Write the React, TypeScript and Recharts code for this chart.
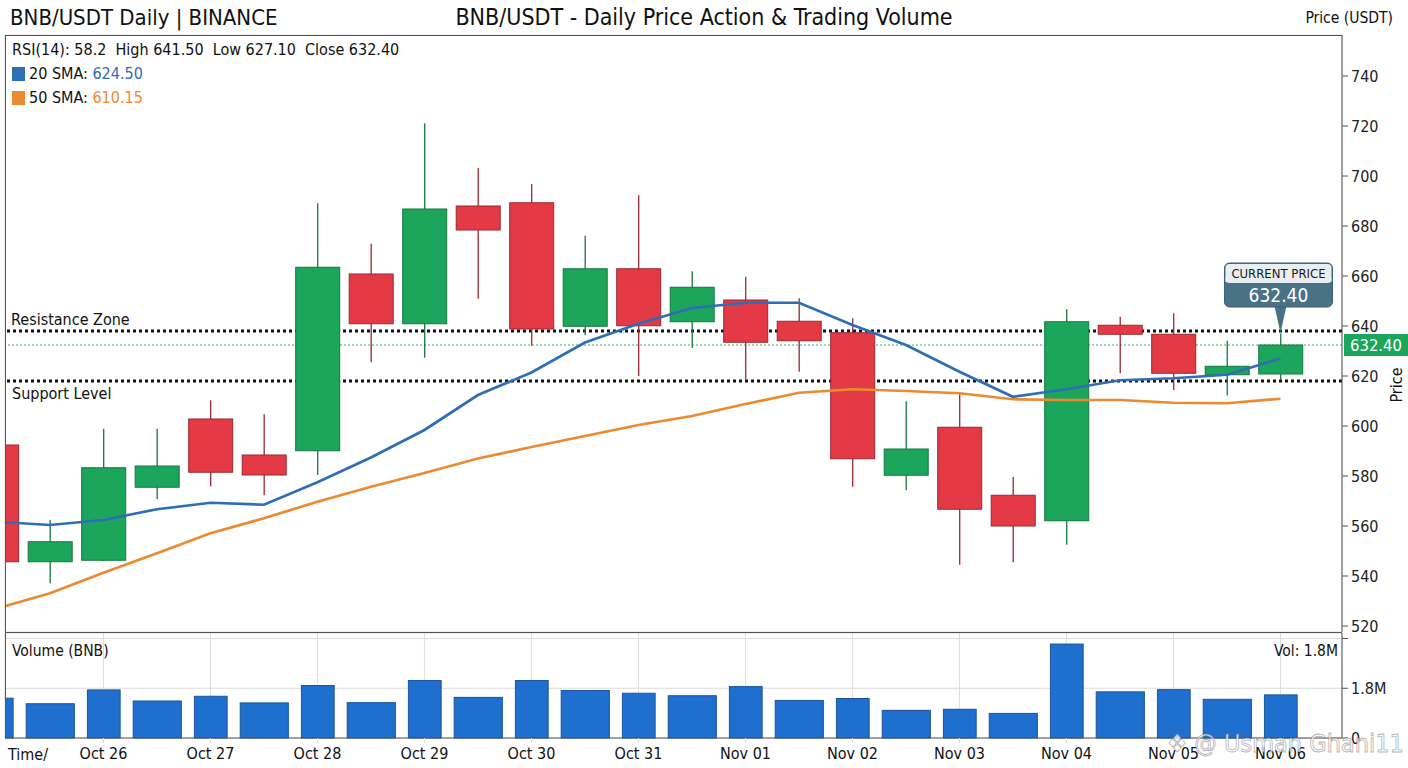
import {
  ComposedChart,
  Bar,
  Line,
  XAxis,
  YAxis,
  CartesianGrid,
  ReferenceLine,
  ReferenceDot,
} from 'recharts';

const FONT = '"DejaVu Sans Condensed", "DejaVu Sans", sans-serif';

// one candle per half day, index 0..24
const OPEN = [
  592.4, 545.7, 546.3, 575.5, 602.8, 588.4, 590.1, 660.8, 640.9, 688.0, 689.3, 639.9, 662.9,
  641.7, 650.4, 641.9, 637.3, 580.3, 599.5, 572.3, 562.1, 640.3, 636.7, 620.5, 620.8,
];
const HIGH = [
  596.0, 562.4, 598.9, 598.9, 610.3, 604.7, 689.1, 672.9, 721.1, 703.2, 696.8, 676.1, 692.3,
  661.9, 659.7, 651.1, 643.1, 609.9, 613.1, 579.6, 646.7, 643.7, 645.1, 634.1, 637.0,
];
const LOW = [
  541.0, 537.1, 546.0, 570.7, 575.9, 572.3, 580.4, 625.5, 627.3, 650.9, 632.1, 636.3, 620.0,
  631.2, 618.7, 621.7, 575.7, 574.3, 544.5, 545.5, 552.5, 621.1, 614.4, 612.2, 618.4,
];
const CLOSE = [
  545.7, 553.7, 583.3, 584.0, 581.5, 580.4, 663.5, 640.9, 686.8, 678.4, 638.8, 662.9, 640.1,
  655.5, 633.5, 634.1, 586.9, 590.8, 566.7, 560.0, 641.7, 636.7, 621.1, 623.9, 632.4,
];
const SMA20 = [
  561.7, 560.4, 562.4, 566.7, 569.3, 568.5, 577.5, 587.4, 598.4, 612.4, 621.4, 633.4, 640.9,
  647.2, 649.3, 649.3, 640.4, 632.4, 621.7, 611.7, 614.7, 618.3, 619.1, 620.5, 627.0,
];
const SMA50 = [
  527.0, 533.1, 541.3, 549.1, 557.1, 563.1, 569.7, 575.7, 581.2, 587.0, 591.6, 596.0, 600.4,
  604.0, 608.8, 613.3, 614.7, 614.0, 613.1, 610.7, 610.4, 610.4, 609.3, 609.1, 610.9,
];
// volume in millions of BNB
const VOLUME_M = [
  1.44, 1.24, 1.74, 1.34, 1.51, 1.27, 1.9, 1.28, 2.08, 1.47, 2.08, 1.72, 1.62, 1.53, 1.86, 1.36,
  1.43, 1.0, 1.04, 0.89, 3.4, 1.67, 1.75, 1.4, 1.56,
];

const TICK_INDEX = [2, 4, 6, 8, 10, 12, 14, 16, 18, 20, 22, 24];
const DAY_LABELS = [
  'Oct 26', 'Oct 27', 'Oct 28', 'Oct 29', 'Oct 30', 'Oct 31',
  'Nov 01', 'Nov 02', 'Nov 03', 'Nov 04', 'Nov 05', 'Nov 06',
];
const PRICE_TICKS = [520, 540, 560, 580, 600, 620, 640, 660, 680, 700, 720, 740];
const VOL_TICKS = [0, 1.8e6, 3.6e6];

const RESISTANCE = 638;
const SUPPORT = 618;
const LAST_CLOSE = CLOSE[CLOSE.length - 1];

const X_DOMAIN: [number, number] = [0.16, 25.15];
const Y_DOMAIN: [number, number] = [517.6, 756.4];

const GREEN = '#1ba65c';
const GREEN_EDGE = '#14773f';
const RED = '#e33a46';
const RED_EDGE = '#9a2831';
const BLUE = '#2f6db5';
const ORANGE = '#eb8a31';
const GRID = '#dcdcdc';
const AXIS = '#555';

const data = OPEN.map((open, i) => ({
  i,
  open,
  high: HIGH[i],
  low: LOW[i],
  close: CLOSE[i],
  range: [LOW[i], HIGH[i]],
  sma20: SMA20[i],
  sma50: SMA50[i],
  vol: VOLUME_M[i] * 1e6,
}));

const PRICE_MARGIN = { top: 35, right: 0, bottom: 8, left: 5 };

function Candle(props: any) {
  const { x, y, width, height, payload } = props;
  const { open, close, high, low } = payload;
  const up = close >= open;
  const top = Math.min(y, y + height);
  const h = Math.abs(height);
  const span = high - low || 1;
  const toY = (v: number) => top + ((high - v) / span) * h;
  const cx = x + width / 2;
  const b1 = toY(Math.max(open, close));
  const b2 = toY(Math.min(open, close));
  return (
    <g>
      <line x1={cx} x2={cx} y1={top} y2={top + h} stroke={up ? GREEN_EDGE : RED_EDGE} strokeWidth={1.3} />
      <rect
        x={x}
        y={b1}
        width={width}
        height={Math.max(b2 - b1, 1)}
        fill={up ? GREEN : RED}
        stroke={up ? GREEN_EDGE : RED_EDGE}
        strokeWidth={1}
      />
    </g>
  );
}

// volume bars alternate narrow / wide like the source
function VolumeBar(props: any) {
  const { x, y, width, height, payload } = props;
  const w = payload.i % 2 === 0 ? width * 0.68 : width;
  return (
    <rect
      x={x + (width - w) / 2}
      y={y}
      width={w}
      height={height}
      fill="#1f6fce"
      stroke="#1a559c"
      strokeWidth={1}
    />
  );
}

function PriceBadge(props: any) {
  const { viewBox } = props;
  const x = viewBox.x + viewBox.width + 2;
  const y = viewBox.y;
  return (
    <g>
      <rect x={x} y={y - 11} width={66} height={22} fill={GREEN} />
      <text x={x + 32} y={y + 6} textAnchor="middle" fill="#fff" fontSize={16.5} fontFamily={FONT}>
        {LAST_CLOSE.toFixed(2)}
      </text>
    </g>
  );
}

function Callout(props: any) {
  const { cx, cy } = props;
  const w = 108;
  const bh = 44;
  const head = 19;
  const left = cx - 56;
  const bottom = cy - 26;
  const top = bottom - bh;
  return (
    <g>
      <path d={`M ${cx - 6} ${bottom - 1} L ${cx} ${cy} L ${cx + 6} ${bottom - 1} Z`} fill="#4a7286" />
      <rect x={left} y={top} width={w} height={bh} rx={5} fill="#4a7286" stroke="#3b5f72" />
      <rect x={left + 1} y={top + 1} width={w - 2} height={head} rx={4} fill="#e9eef1" />
      <rect x={left + 1} y={top + head - 4} width={w - 2} height={4} fill="#e9eef1" />
      <text x={left + w / 2} y={top + 15} textAnchor="middle" fontSize={13} fill="#1a1a1a" fontFamily={FONT}>
        CURRENT PRICE
      </text>
      <text x={left + w / 2} y={top + 39} textAnchor="middle" fontSize={19} fill="#fff" fontFamily={FONT}>
        {LAST_CLOSE.toFixed(2)}
      </text>
    </g>
  );
}

function VolTick(props: any) {
  const { x, y, payload } = props;
  if (payload.value > 3e6) return null;
  const label = payload.value === 0 ? '0' : (payload.value / 1e6).toFixed(1) + 'M';
  return (
    <text x={x} y={y + 6} fill="#222" fontSize={16} fontFamily={FONT}>
      {label}
    </text>
  );
}

const abs = (left: number, top: number, extra: any = {}) => ({
  position: 'absolute' as const,
  left,
  top,
  whiteSpace: 'nowrap' as const,
  fontFamily: FONT,
  color: '#111',
  lineHeight: 1,
  ...extra,
});

function PriceAxes({ visible }: { visible: boolean }) {
  return [
    <XAxis
      key="x"
      type="number"
      dataKey="i"
      domain={X_DOMAIN}
      allowDataOverflow
      ticks={TICK_INDEX}
      height={0}
      tick={false}
      tickLine={false}
      axisLine={false}
    />,
    <YAxis
      key="y"
      orientation="right"
      domain={Y_DOMAIN}
      allowDataOverflow
      ticks={PRICE_TICKS}
      width={66}
      tickSize={6}
      tickMargin={3}
      tick={visible ? { fill: '#222', fontSize: 16, fontFamily: FONT } : false}
      axisLine={visible ? { stroke: AXIS } : false}
      tickLine={visible ? { stroke: AXIS } : false}
    />,
  ];
}

export default function App() {
  return (
    <div style={{ position: 'relative', width: 1408, height: 768, background: '#fff', overflow: 'hidden' }}>
      <style>{'body{margin:0}'}</style>

      {/* back layer: grid and level lines sit behind the candles */}
      <div style={{ position: 'absolute', left: 0, top: 0 }}>
        <ComposedChart width={1408} height={640} data={data} margin={PRICE_MARGIN}>
          <CartesianGrid stroke={GRID} />
          {PriceAxes({ visible: false })}
          <ReferenceLine
            y={RESISTANCE}
            stroke="#111"
            strokeWidth={3}
            strokeDasharray="3 3"
            label={{ value: 'Resistance Zone', position: 'insideBottomLeft', offset: 6, fill: '#111', fontSize: 16, fontFamily: FONT }}
          />
          <ReferenceLine
            y={SUPPORT}
            stroke="#111"
            strokeWidth={3}
            strokeDasharray="3 3"
            label={{ value: 'Support Level', position: 'insideTopLeft', offset: 7, fill: '#111', fontSize: 16, fontFamily: FONT }}
          />
          <ReferenceLine y={LAST_CLOSE} stroke="#3fae6a" strokeWidth={1} strokeDasharray="2 2" label={<PriceBadge />} />
        </ComposedChart>
      </div>

      <div style={{ position: 'absolute', left: 0, top: 0 }}>
        <ComposedChart width={1408} height={640} data={data} margin={PRICE_MARGIN}>
          {PriceAxes({ visible: true })}
          <Bar dataKey="range" barSize={44} shape={<Candle />} isAnimationActive={false} />
          <Line dataKey="sma50" stroke={ORANGE} strokeWidth={2.7} dot={false} activeDot={false} isAnimationActive={false} />
          <Line dataKey="sma20" stroke={BLUE} strokeWidth={2.7} dot={false} activeDot={false} isAnimationActive={false} />
          <ReferenceDot x={24} y={637.2} r={0} shape={<Callout />} />
        </ComposedChart>
      </div>

      <div style={{ position: 'absolute', left: 0, top: 633 }}>
        <ComposedChart width={1408} height={135} data={data} margin={{ top: 0, right: 0, bottom: 0, left: 5 }}>
          <CartesianGrid stroke={GRID} />
          <XAxis
            type="number"
            dataKey="i"
            domain={X_DOMAIN}
            allowDataOverflow
            ticks={TICK_INDEX}
            tickFormatter={(v: number) => DAY_LABELS[TICK_INDEX.indexOf(v)]}
            height={30}
            tickSize={5}
            tickMargin={5}
            tick={{ fill: '#111', fontSize: 16, fontFamily: FONT }}
            axisLine={{ stroke: AXIS }}
            tickLine={{ stroke: GRID }}
          />
          <YAxis
            orientation="right"
            domain={[0, 3.8e6]}
            ticks={VOL_TICKS}
            width={66}
            tickSize={6}
            tickMargin={3}
            tick={<VolTick />}
            axisLine={{ stroke: AXIS }}
            tickLine={{ stroke: AXIS }}
          />
          <Bar dataKey="vol" barSize={57} shape={<VolumeBar />} isAnimationActive={false} />
        </ComposedChart>
      </div>

      {/* pane frames */}
      <div style={{ position: 'absolute', left: 5, top: 35, width: 1337, height: 598, borderTop: `1px solid ${AXIS}`, borderLeft: `1px solid ${AXIS}`, borderBottom: `1.5px solid ${AXIS}`, boxSizing: 'border-box' }} />
      <div style={{ position: 'absolute', left: 5, top: 633, width: 1, height: 105, background: AXIS }} />

      {/* header */}
      <div style={abs(10, 7, { fontSize: 22 })}>BNB/USDT Daily | BINANCE</div>
      <div style={abs(0, 6, { width: 1408, textAlign: 'center', fontSize: 23 })}>
        BNB/USDT - Daily Price Action &amp; Trading Volume
      </div>
      <div style={abs(0, 11, { width: 1393, textAlign: 'right', fontSize: 15.5 })}>Price (USDT)</div>

      {/* legend */}
      <div style={abs(12, 42, { fontSize: 16 })}>RSI(14): 58.2&nbsp; High 641.50&nbsp; Low 627.10&nbsp; Close 632.40</div>
      <div style={abs(12, 66, { fontSize: 16 })}>
        <span style={{ display: 'inline-block', width: 13, height: 14, background: BLUE, verticalAlign: -2, marginRight: 4 }} />
        20 SMA: <span style={{ color: BLUE }}>624.50</span>
      </div>
      <div style={abs(12, 90, { fontSize: 16 })}>
        <span style={{ display: 'inline-block', width: 13, height: 14, background: ORANGE, verticalAlign: -2, marginRight: 4 }} />
        50 SMA: <span style={{ color: ORANGE }}>610.15</span>
      </div>

      <div style={abs(1397, 385, { fontSize: 16, transform: 'translate(-50%, -50%) rotate(-90deg)' })}>Price</div>

      {/* volume pane texts */}
      <div style={abs(12, 644, { fontSize: 15.5 })}>Volume (BNB)</div>
      <div style={abs(0, 644, { width: 1338, textAlign: 'right', fontSize: 15.5 })}>Vol: 1.8M</div>
      <div style={abs(8, 747, { fontSize: 16 })}>Time/</div>

      {/* watermark */}
      <div
        style={abs(1167, 731, {
          fontSize: 25,
          color: 'rgba(255,255,255,0.75)',
          WebkitTextStroke: '0.8px rgba(110,110,110,0.55)',
        })}
      >
        ❖ @ Usman Ghani11
      </div>
    </div>
  );
}
